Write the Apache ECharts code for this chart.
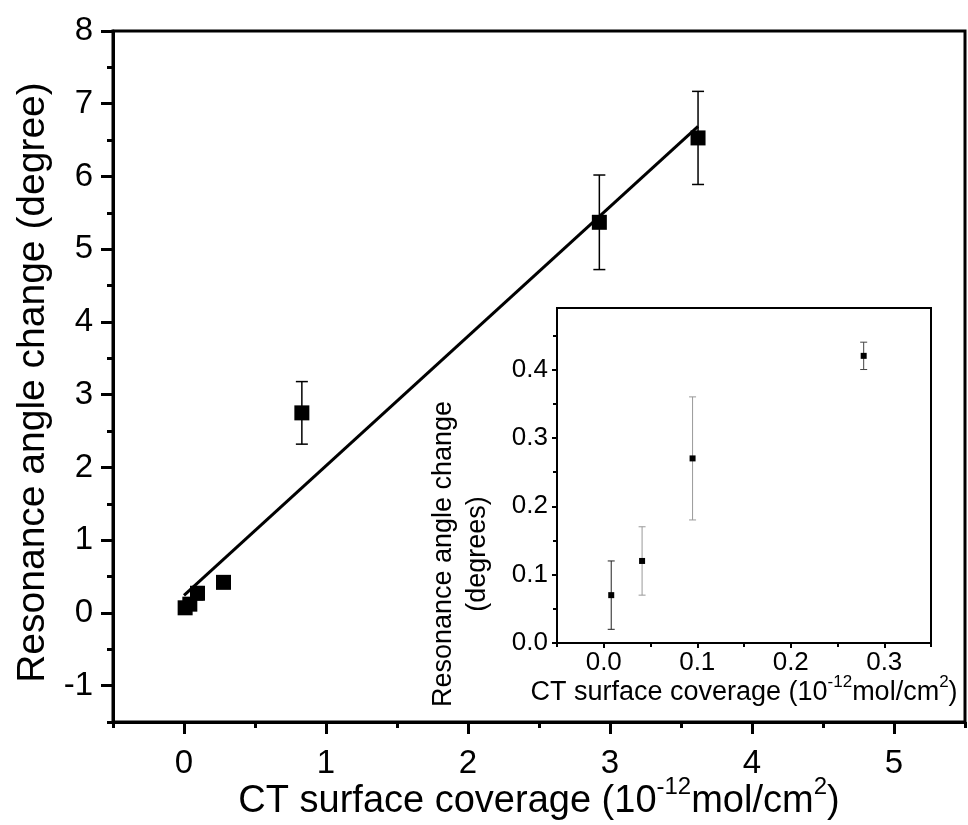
<!DOCTYPE html>
<html><head><meta charset="utf-8">
<script src="https://cdn.jsdelivr.net/npm/echarts@6/dist/echarts.min.js"></script>
<style>html,body{margin:0;padding:0;background:#fff}#c{width:968px;height:825px}</style>
</head><body><div id="c"></div>
<script>
// ---- data ----
const mainX = [0.008, 0.041, 0.095, 0.278, 0.83, 2.925, 3.62];
const mainY = [0.07, 0.12, 0.27, 0.42, 2.75, 5.37, 6.53];
const mainErr = [0.05, 0.05, 0.09, 0.02, 0.43, 0.65, 0.64];
const fitX = [0.0, 3.62];
const fitY = [0.24, 6.69];
const insetX = [0.008, 0.041, 0.095, 0.278];
const insetY = [0.07, 0.12, 0.27, 0.42];
const insetErr = [0.05, 0.05, 0.09, 0.02];
// ---- tick values ----
const mainXTicks = [0, 1, 2, 3, 4, 5];
const mainXMinor = [-0.5, 0.5, 1.5, 2.5, 3.5, 4.5, 5.5];
const mainYTicks = [-1, 0, 1, 2, 3, 4, 5, 6, 7, 8];
const mainYMinor = [-1.5, -0.5, 0.5, 1.5, 2.5, 3.5, 4.5, 5.5, 6.5, 7.5];
const insetXTicks = [0, 0.1, 0.2, 0.3];
const insetXMinor = [-0.05, 0.05, 0.15, 0.25, 0.35];
const insetYTicks = [0, 0.1, 0.2, 0.3, 0.4];
const insetYMinor = [0.05, 0.15, 0.25, 0.35, 0.45];
// ---- texts ----
const mainXTitle = 'CT surface coverage (10{sup|-12}mol/cm{sup|2})';
const mainYTitle = 'Resonance angle change (degree)';
const insetXTitle = 'CT surface coverage (10{sup|-12}mol/cm{sup|2})';
const insetYTitle1 = 'Resonance angle change';
const insetYTitle2 = '(degrees)';

const FF = 'Liberation Sans, Arial, Helvetica, sans-serif';
const insetErrColors = ['#222', '#999', '#999', '#444'];

const chart = echarts.init(document.getElementById('c'), null, {renderer: 'canvas'});

function errRender(capHalf, lw, colors) {
  return function (params, api) {
    const x = api.value(0), lo = api.value(1), hi = api.value(2);
    const p1 = api.coord([x, lo]), p2 = api.coord([x, hi]);
    const c = colors ? colors[params.dataIndex] : '#000';
    const st = {stroke: c, lineWidth: lw};
    return {type: 'group', children: [
      {type: 'line', shape: {x1: p1[0], y1: p1[1], x2: p2[0], y2: p2[1]}, style: st},
      {type: 'line', shape: {x1: p1[0] - capHalf, y1: p1[1], x2: p1[0] + capHalf, y2: p1[1]}, style: st},
      {type: 'line', shape: {x1: p2[0] - capHalf, y1: p2[1], x2: p2[0] + capHalf, y2: p2[1]}, style: st}
    ]};
  };
}

function majorAxis(opt) {
  return Object.assign({
    type: 'value',
    splitLine: {show: false},
    nameMoveOverlap: false,
    axisLine: {show: true, onZero: false, lineStyle: {color: '#000', width: opt.lw}},
    axisTick: {show: true, inside: false, length: opt.tl, customValues: opt.ticks, lineStyle: {color: '#000', width: opt.lw}},
    axisLabel: {show: true, customValues: opt.ticks, fontSize: opt.fs, fontFamily: FF, color: '#000', margin: opt.margin,
      formatter: opt.fmt}
  }, opt.extra);
}
function minorAxis(opt) {
  return Object.assign({
    type: 'value',
    splitLine: {show: false},
    axisLine: {show: false, onZero: false},
    axisTick: {show: true, inside: false, length: opt.tl, customValues: opt.ticks, lineStyle: {color: '#000', width: opt.lw}},
    axisLabel: {show: false}
  }, opt.extra);
}

const fmt1 = v => Number(v).toFixed(1);
const fmt0 = v => String(v);

const option = {
  backgroundColor: '#fff',
  animation: false,
  grid: [
    {left: 113, right: 3, top: 31, bottom: 103, show: true, borderColor: '#000', borderWidth: 3, backgroundColor: '#fff',
      containLabel: false, outerBoundsMode: 'none'},
    {left: 557, right: 37, top: 308, bottom: 182, show: true, borderColor: '#000', borderWidth: 2, backgroundColor: '#fff',
      containLabel: false, outerBoundsMode: 'none'}
  ],
  xAxis: [
    majorAxis({lw: 3, tl: 12, ticks: mainXTicks, fs: 33, margin: 25, fmt: fmt0, extra: {gridIndex: 0, position: 'bottom', min: -0.5, max: 5.5,
      name: mainXTitle, nameLocation: 'middle', nameGap: 53,
      nameTextStyle: {fontSize: 38, lineHeight: 54, fontFamily: FF, color: '#000',
        rich: {sup: {fontSize: 24, lineHeight: 24, fontFamily: FF, color: '#000', verticalAlign: 'top'}}}}}),
    minorAxis({lw: 3, tl: 6, ticks: mainXMinor, extra: {gridIndex: 0, position: 'bottom', min: -0.5, max: 5.5}}),
    majorAxis({lw: 2, tl: 5, ticks: insetXTicks, fs: 26, margin: 7, fmt: fmt1, extra: {gridIndex: 1, position: 'bottom', min: -0.05, max: 0.35,
      name: insetXTitle, nameLocation: 'middle', nameGap: 31,
      nameTextStyle: {fontSize: 27, lineHeight: 38, fontFamily: FF, color: '#000',
        rich: {sup: {fontSize: 17, lineHeight: 17, fontFamily: FF, color: '#000', verticalAlign: 'top'}}}}}),
    minorAxis({lw: 2, tl: 4, ticks: insetXMinor, extra: {gridIndex: 1, position: 'bottom', min: -0.05, max: 0.35}})
  ],
  yAxis: [
    majorAxis({lw: 3, tl: 12, ticks: mainYTicks, fs: 33, margin: 20, fmt: fmt0, extra: {gridIndex: 0, position: 'left', min: -1.5, max: 8,
      name: mainYTitle, nameLocation: 'middle', nameRotate: 90, nameGap: 60,
      nameTextStyle: {fontSize: 39, fontFamily: FF, color: '#000', padding: [0, 12, 0, 0]}}}),
    minorAxis({lw: 3, tl: 6, ticks: mainYMinor, extra: {gridIndex: 0, position: 'left', min: -1.5, max: 8}}),
    majorAxis({lw: 2, tl: 5, ticks: insetYTicks, fs: 26, margin: 9, fmt: fmt1, extra: {gridIndex: 1, position: 'left', min: 0, max: 0.49}}),
    minorAxis({lw: 2, tl: 4, ticks: insetYMinor, extra: {gridIndex: 1, position: 'left', min: 0, max: 0.49}})
  ],
  graphic: [
    {type: 'text', x: 444, y: 554, rotation: Math.PI / 2, style: {text: insetYTitle1, fontSize: 27, fontFamily: FF, fill: '#000', align: 'center', verticalAlign: 'middle'}},
    {type: 'text', x: 478, y: 554, rotation: Math.PI / 2, style: {text: insetYTitle2, fontSize: 27, fontFamily: FF, fill: '#000', align: 'center', verticalAlign: 'middle'}}
  ],
  series: [
    {type: 'line', xAxisIndex: 0, yAxisIndex: 0, data: fitX.map((x, i) => [x, fitY[i]]), showSymbol: false, symbol: 'none',
      lineStyle: {color: '#000', width: 3}, z: 2},
    {type: 'custom', xAxisIndex: 0, yAxisIndex: 0, renderItem: errRender(6, 1.5, null),
      data: mainX.map((x, i) => [x, mainY[i] - mainErr[i], mainY[i] + mainErr[i]]), encode: {x: 0, y: [1, 2]}, z: 3},
    {type: 'scatter', xAxisIndex: 0, yAxisIndex: 0, data: mainX.map((x, i) => [x, mainY[i]]), symbol: 'rect', symbolSize: 15,
      itemStyle: {color: '#000', opacity: 1}, z: 4},
    {type: 'custom', xAxisIndex: 2, yAxisIndex: 2, renderItem: errRender(3.5, 1, insetErrColors),
      data: insetX.map((x, i) => [x, insetY[i] - insetErr[i], insetY[i] + insetErr[i]]), encode: {x: 0, y: [1, 2]}, z: 5},
    {type: 'scatter', xAxisIndex: 2, yAxisIndex: 2, data: insetX.map((x, i) => [x, insetY[i]]), symbol: 'rect', symbolSize: 6,
      itemStyle: {color: '#000', opacity: 1}, z: 6}
  ]
};
chart.setOption(option);
</script>
</body></html>
